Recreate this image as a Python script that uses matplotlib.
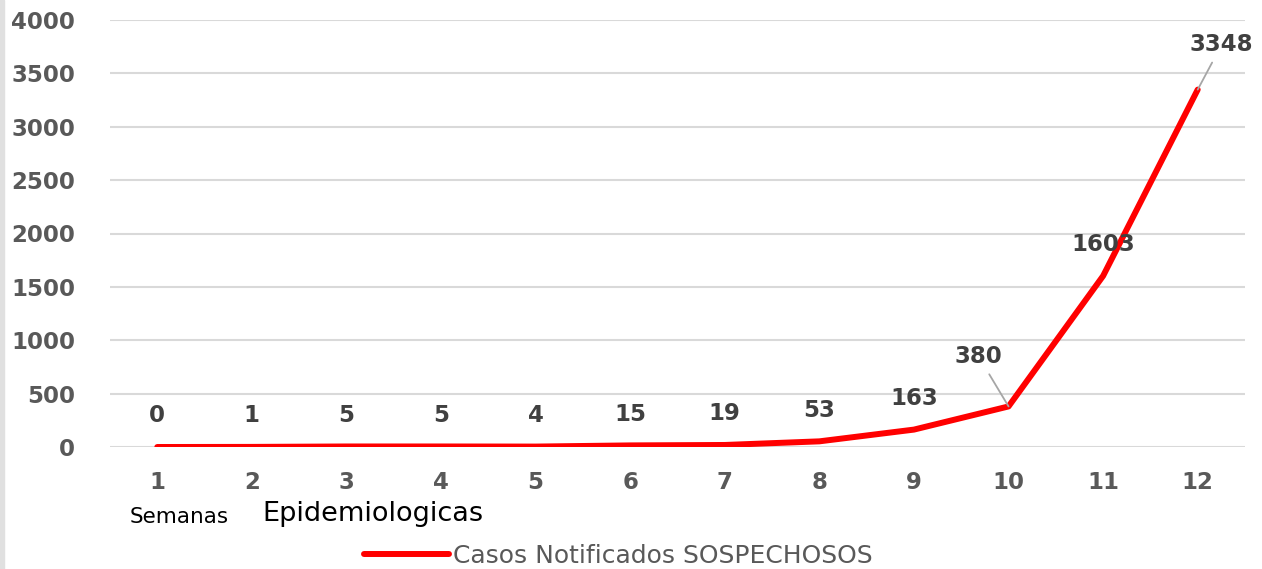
import matplotlib.pyplot as plt
from matplotlib.patches import Rectangle

# data
semanas = [1, 2, 3, 4, 5, 6, 7, 8, 9, 10, 11, 12]
casos = [0, 1, 5, 5, 4, 15, 19, 53, 163, 380, 1603, 3348]
y_ticks = [0, 500, 1000, 1500, 2000, 2500, 3000, 3500, 4000]

# label offsets in pixels (dx, dy); leader line where needed
label_offsets = {10: (-30, 50), 12: (24, 45)}

fig = plt.figure(figsize=(12.62, 5.69), dpi=100)
ax = fig.add_axes([110 / 1262, 1 - 447 / 569, 1135 / 1262, 427 / 569])

ax.plot(semanas, casos, color='#ff0000', lw=4.3, solid_capstyle='round',
        label='Casos Notificados SOSPECHOSOS', zorder=3)

ax.set_xlim(0.5, 12.5)
ax.set_ylim(0, 4000)
ax.set_xticks(semanas)
ax.set_yticks(y_ticks)
ax.grid(axis='y', color='#d9d9d9', lw=1.5)
ax.set_axisbelow(True)
for s in ax.spines.values():
    s.set_visible(False)
ax.tick_params(length=0, colors='#595959', labelsize=16.5)
ax.tick_params(axis='y', pad=25)
ax.tick_params(axis='x', pad=17)
for lab in ax.get_xticklabels() + ax.get_yticklabels():
    lab.set_fontweight('bold')

# data labels
for x, v in zip(semanas, casos):
    if x in label_offsets:
        dx, dy = label_offsets[x]
        ax.annotate(str(v), (x, v), xytext=(dx, dy), textcoords='offset pixels',
                    ha='center', va='center', fontsize=16.5, fontweight='bold',
                    color='#404040',
                    arrowprops=dict(arrowstyle='-', color='#a6a6a6', lw=1.3,
                                    shrinkA=3, shrinkB=0))
    else:
        ax.annotate(str(v), (x, v), xytext=(0, 31), textcoords='offset pixels',
                    ha='center', va='center', fontsize=16.5, fontweight='bold',
                    color='#404040')

# axis title, two sizes like the original
fig.text(130 / 1262, 1 - 517 / 569, 'Semanas', fontsize=15.5,
         color='black', va='center', ha='left')
fig.text(262 / 1262, 1 - 514 / 569, 'Epidemiologicas', fontsize=19.5,
         color='black', va='center', ha='left')

leg = ax.legend(loc='center left', bbox_to_anchor=(364 / 1262, 1 - 556 / 569),
                bbox_transform=fig.transFigure, frameon=False,
                handlelength=3.4, handletextpad=0.15, borderpad=0,
                borderaxespad=0, prop={'size': 18})
for t in leg.get_texts():
    t.set_color('#595959')

# thin grey band at left edge
fig.patches.append(Rectangle((0, 0), 4 / 1262, 1, transform=fig.transFigure,
                             color='#e0e0e0', zorder=0))

fig.savefig('out.png', dpi=100)
